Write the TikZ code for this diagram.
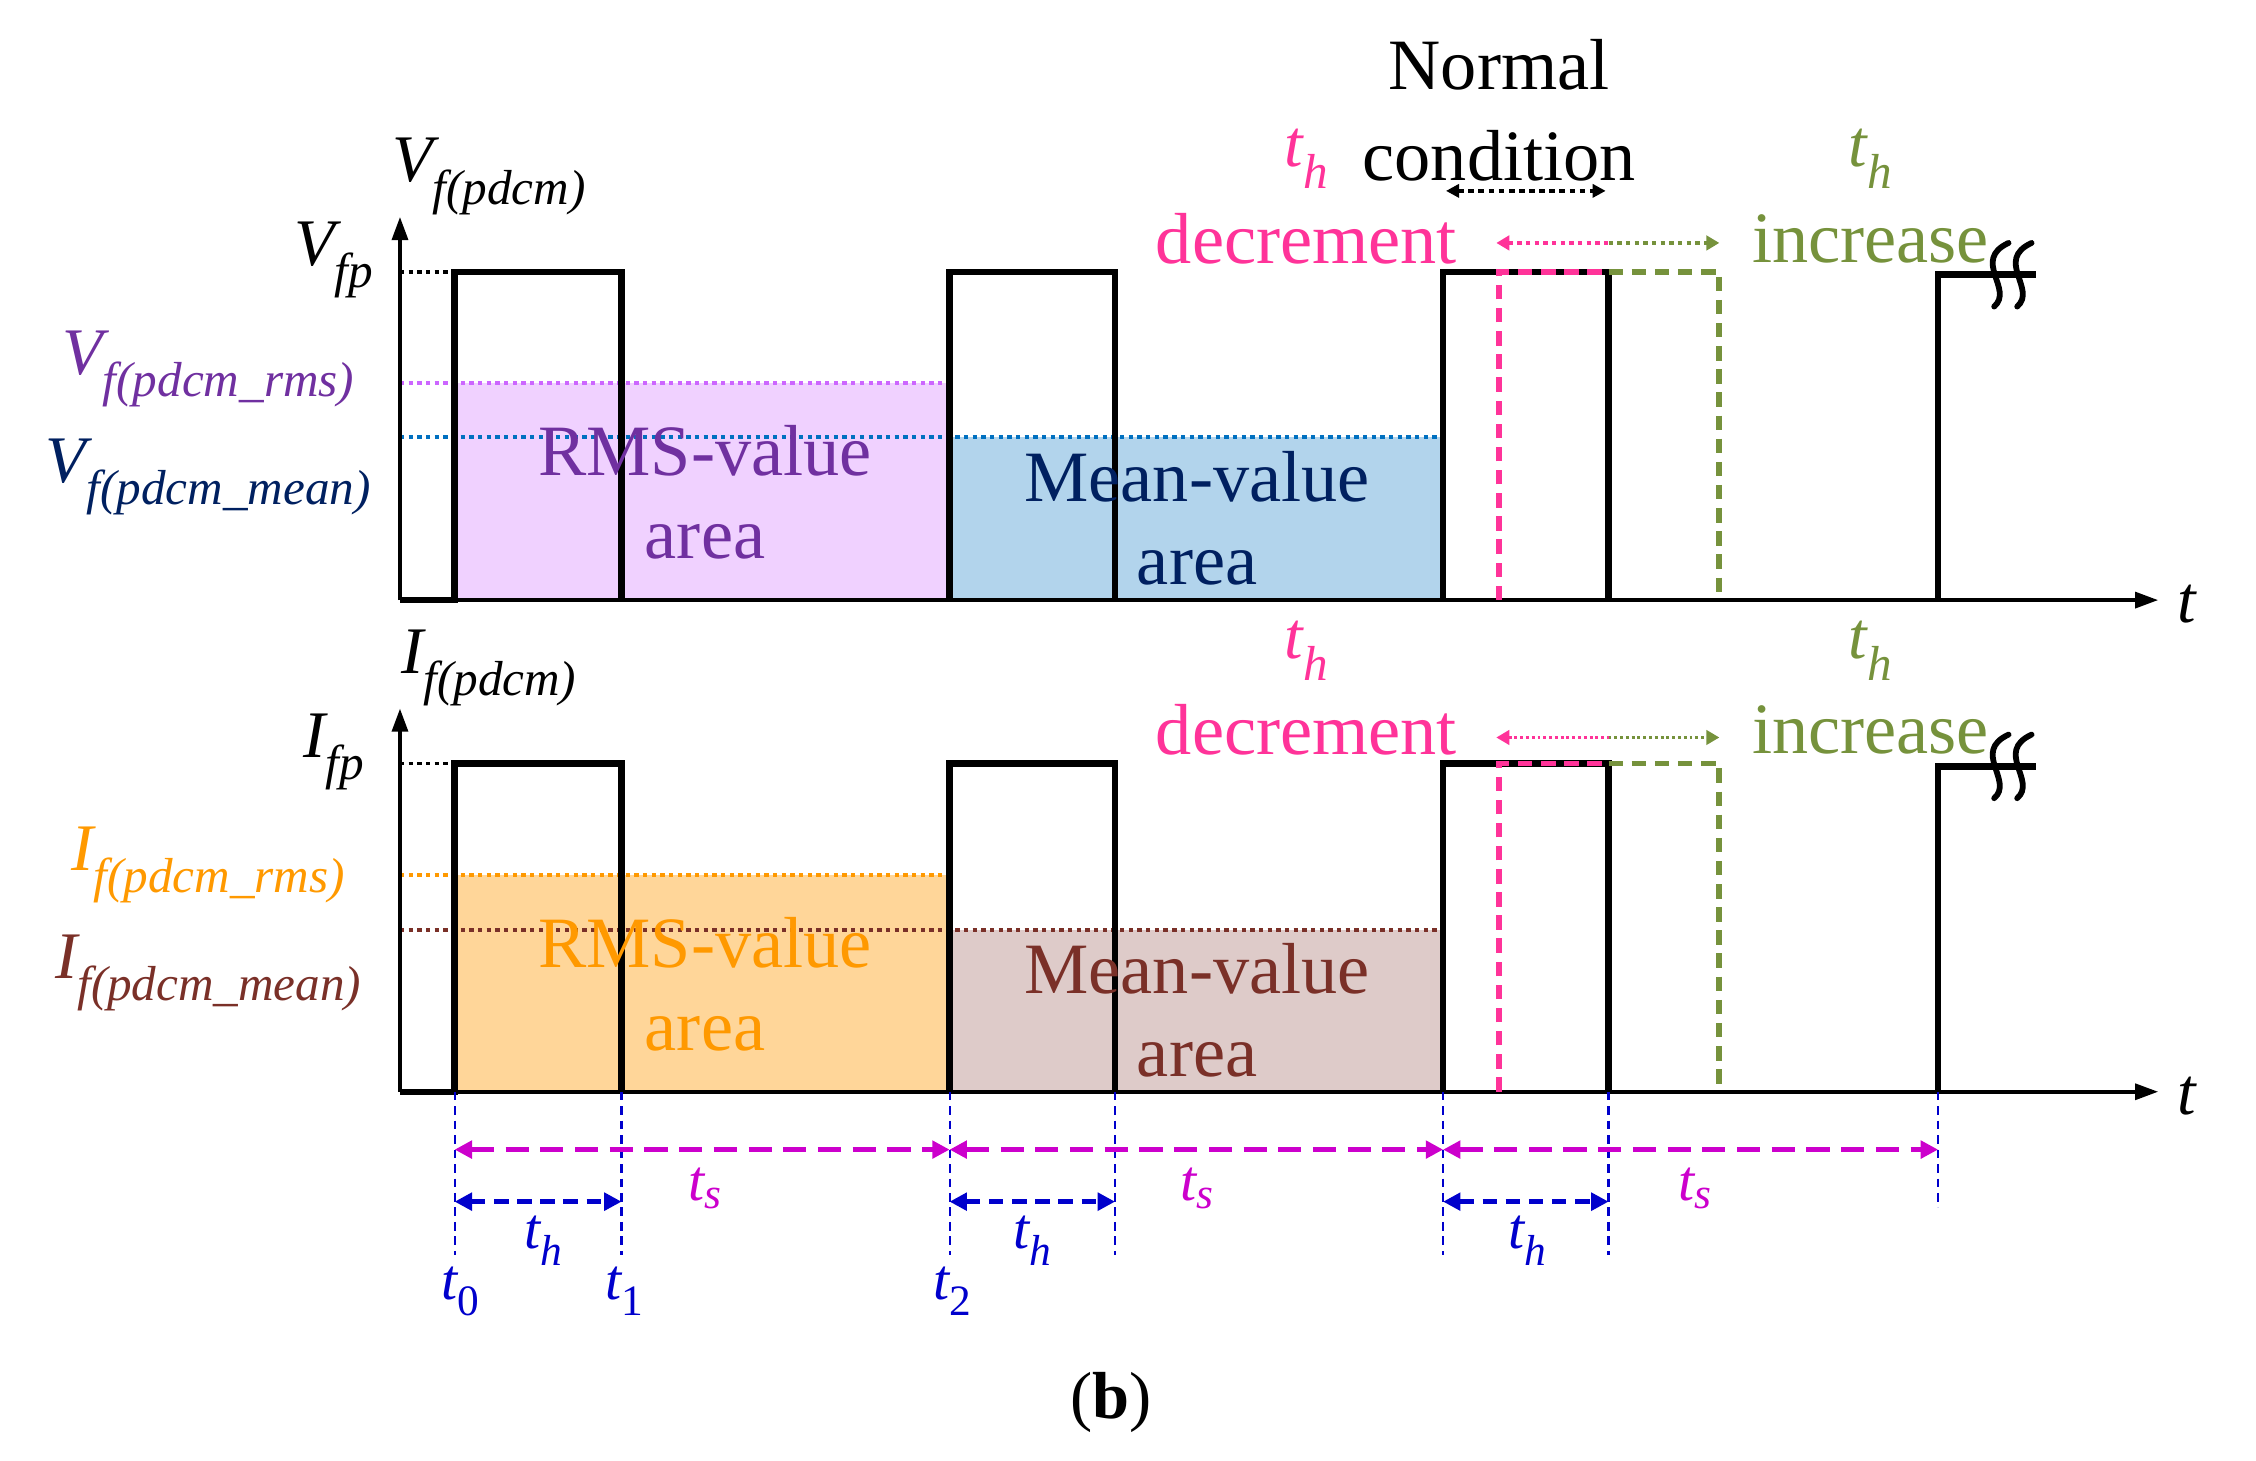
\documentclass[tikz,border=0pt]{standalone}
\usepackage{fontspec}
\setmainfont{Liberation Serif}
\usetikzlibrary{arrows.meta}
\definecolor{pk}{RGB}{255,51,153}
\definecolor{gr}{RGB}{118,146,60}
\definecolor{pu}{RGB}{112,48,160}
\definecolor{nv}{RGB}{0,32,96}
\definecolor{lb}{RGB}{0,112,192}
\definecolor{og}{RGB}{255,153,0}
\definecolor{br}{RGB}{122,48,40}
\definecolor{mg}{RGB}{204,0,204}
\definecolor{bl}{RGB}{0,0,204}
\definecolor{vl}{RGB}{204,102,255}
\begin{document}
\begin{tikzpicture}[x=0.995pt,y=-1pt,
 big/.style={font=\fontsize{50}{52}\selectfont\rmfamily,inner sep=0},
 lab/.style={font=\fontsize{46}{48}\selectfont\rmfamily\itshape,inner sep=0},
 sm/.style={font=\fontsize{40}{42}\selectfont\rmfamily\itshape,inner sep=0},
 sig/.style={line width=4.5pt,line join=miter},
 ax/.style={line width=2.5pt,-{Triangle[length=16pt,width=11pt]}},
 dot/.style={line width=2.5pt,dash pattern=on 3pt off 3pt},
 brk/.style={line width=4pt,line cap=round}]
\useasboundingbox (0,0) rectangle (1568,1010);
% ===== top =====
\fill[vl!30] (316,265) rectangle (660,415);
\fill[lb!30] (660,302) rectangle (1003,415);
\draw[dot,vl] (278,265) -- (660,265) -- (660,415) -- (316,415) -- (316,265);
\draw[dot,lb] (278,302) -- (1003,302);
\draw[dot] (278,188) -- (316,188);
\draw[ax] (278,415) -- (278,150);
\draw[ax] (278,415) -- (1500,415);
\draw[sig] (278,415) -- (316,415) -- (316,188) -- (432,188) -- (432,415)
 (660,415) -- (660,188) -- (775,188) -- (775,415)
 (1003,415) -- (1003,188) -- (1118,188) -- (1118,415)
 (1347,415) -- (1347,190) -- (1415,190);
\draw[brk] (1396,168) .. controls (1370,180) and (1400,200) .. (1386,212)
 (1412,168) .. controls (1386,180) and (1416,200) .. (1402,212);
\draw[pk,line width=4pt,dash pattern=on 10pt off 6pt] (1042,415) -- (1042,188) -- (1118,188);
\draw[gr,line width=4pt,dash pattern=on 10pt off 6pt] (1118,188) -- (1195,188) -- (1195,415);
\node[lab] (vf) at (340,122) {V\textsubscript{\fontsize{34}{36}\selectfont f(pdcm)}};
\node[lab] (vfp) at (232,180) {V\textsubscript{\fontsize{34}{36}\selectfont fp}};
\node[lab,pu] (vr) at (145,255) {V\textsubscript{\fontsize{34}{36}\selectfont f(pdcm\_rms)}};
\node[lab,nv] (vm) at (145,330) {V\textsubscript{\fontsize{34}{36}\selectfont f(pdcm\_mean)}};
\node[big,pu] at (490,312) {RMS-value};
\node[big,pu] at (490,375) {area};
\node[big,nv] at (832,330) {Mean-value};
\node[big,nv] at (832,393) {area};
\node[big] at (1042,45) {Normal};
\node[big] at (1042,108) {condition};
\draw[line width=2.5pt,dash pattern=on 4pt off 3pt,{Triangle[length=9pt,width=9pt]}-{Triangle[length=9pt,width=9pt]}] (1005,132) -- (1116,132);
\node[lab,pk] at (908,110) {t\textsubscript{\fontsize{34}{36}\selectfont h}};
\node[big,pk] at (908,165) {decrement};
\node[lab,gr] at (1300,110) {t\textsubscript{\fontsize{34}{36}\selectfont h}};
\node[big,gr] at (1300,165) {increase};
\draw[pk,line width=2.5pt,dash pattern=on 3pt off 3pt,{Triangle[length=9pt,width=10pt]}-] (1040,168) -- (1118,168);
\draw[gr,line width=2.5pt,dash pattern=on 3pt off 3pt,-{Triangle[length=9pt,width=10pt]}] (1118,168) -- (1195,168);
\node[lab] at (1520,418) {t};
% ===== bottom =====
\fill[og!40] (316,605) rectangle (660,755);
\fill[br!25] (660,643) rectangle (1003,755);
\draw[dot,og] (278,605) -- (660,605) -- (660,755) (316,755) -- (316,605);
\draw[dot,br] (278,643) -- (1003,643);
\draw[dot] (278,528) -- (316,528);
\draw[ax] (278,755) -- (278,490);
\draw[ax] (278,755) -- (1500,755);
\draw[sig] (278,755) -- (316,755) -- (316,528) -- (432,528) -- (432,755)
 (660,755) -- (660,528) -- (775,528) -- (775,755)
 (1003,755) -- (1003,528) -- (1118,528) -- (1118,755)
 (1347,755) -- (1347,530) -- (1415,530);
\draw[brk] (1396,508) .. controls (1370,520) and (1400,540) .. (1386,552)
 (1412,508) .. controls (1386,520) and (1416,540) .. (1402,552);
\draw[pk,line width=4pt,dash pattern=on 10pt off 6pt] (1042,755) -- (1042,528) -- (1118,528);
\draw[gr,line width=4pt,dash pattern=on 10pt off 6pt] (1118,528) -- (1195,528) -- (1195,755);
\node[lab] (if) at (340,462) {I\textsubscript{\fontsize{34}{36}\selectfont f(pdcm)}};
\node[lab] (ifp) at (232,520) {I\textsubscript{\fontsize{34}{36}\selectfont fp}};
\node[lab,og] (ir) at (145,598) {I\textsubscript{\fontsize{34}{36}\selectfont f(pdcm\_rms)}};
\node[lab,br] (im) at (145,673) {I\textsubscript{\fontsize{34}{36}\selectfont f(pdcm\_mean)}};
\node[big,og] at (490,652) {RMS-value};
\node[big,og] at (490,715) {area};
\node[big,br] at (832,670) {Mean-value};
\node[big,br] at (832,733) {area};
\node[lab,pk] at (908,450) {t\textsubscript{\fontsize{34}{36}\selectfont h}};
\node[big,pk] at (908,505) {decrement};
\node[lab,gr] at (1300,450) {t\textsubscript{\fontsize{34}{36}\selectfont h}};
\node[big,gr] at (1300,505) {increase};
\draw[pk,line width=2pt,dash pattern=on 2pt off 2pt,{Triangle[length=9pt,width=10pt]}-] (1040,510) -- (1118,510);
\draw[gr,line width=2pt,dash pattern=on 2pt off 2pt,-{Triangle[length=9pt,width=10pt]}] (1118,510) -- (1195,510);
\node[lab] at (1520,758) {t};
% ===== timing =====
\foreach \x in {316,432,660,775,1003,1118}
  \draw[bl,line width=1.5pt,dash pattern=on 6pt off 4pt] (\x,755) -- (\x,868);
\draw[bl,line width=1.5pt,dash pattern=on 6pt off 4pt] (1347,755) -- (1347,835);
\foreach \a/\b in {316/660,660/1003,1003/1347}
  \draw[mg,line width=3pt,dash pattern=on 16pt off 8pt,{Triangle[length=12pt,width=12pt]}-{Triangle[length=12pt,width=12pt]}] (\a,795) -- (\b,795);
\foreach \a/\b in {316/432,660/775,1003/1118}
  \draw[bl,line width=3pt,dash pattern=on 10pt off 6pt,{Triangle[length=12pt,width=12pt]}-{Triangle[length=12pt,width=12pt]}] (\a,831) -- (\b,831);
\foreach \x in {490,832,1178}
  \node[sm,mg] at (\x,822) {t\textsubscript{\fontsize{30}{32}\selectfont s}};
\foreach \x in {378,718,1062}
  \node[sm,bl] at (\x,858) {t\textsubscript{\fontsize{30}{32}\selectfont h}};
\node[sm,bl] at (320,893) {t\textsubscript{\fontsize{30}{32}\selectfont\upshape 0}};
\node[sm,bl] at (434,893) {t\textsubscript{\fontsize{30}{32}\selectfont\upshape 1}};
\node[sm,bl] at (662,893) {t\textsubscript{\fontsize{30}{32}\selectfont\upshape 2}};
\node[font=\fontsize{46}{48}\selectfont\rmfamily,inner sep=0] at (772,970) {(\textbf{b})};
\end{tikzpicture}
\end{document}
